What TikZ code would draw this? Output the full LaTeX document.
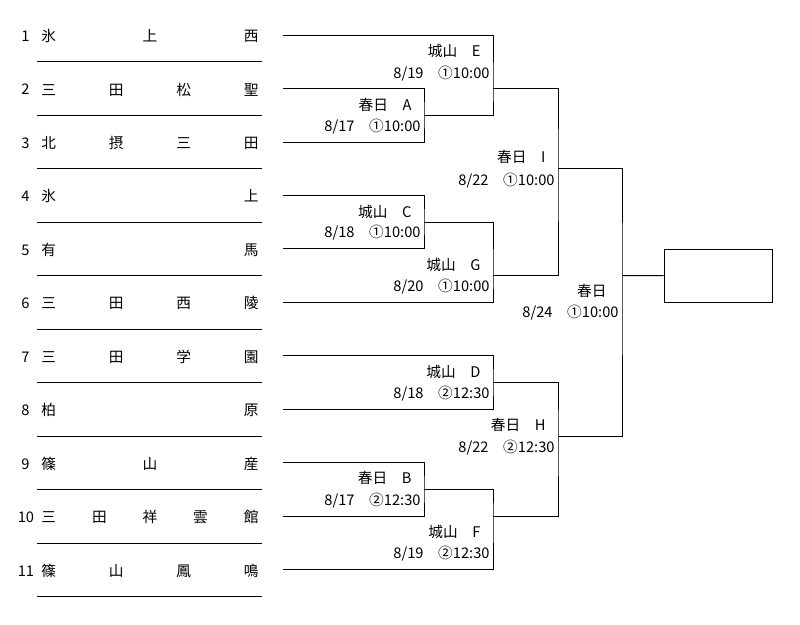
\documentclass[tikz,border=0pt]{standalone}
\usepackage{fontspec}
\setmainfont{Noto Sans CJK JP}
\newcommand\spreadname[1]{\hbox to 162.75pt{#1}}

\begin{document}
\begin{tikzpicture}[x=0.75pt, y=-0.75pt, line width=0.7pt,
		font=\fontsize{11pt}{13pt}\selectfont,
		seed/.style={anchor=center, inner sep=0pt},
		team/.style={anchor=west, inner sep=0pt},
		venue/.style={anchor=east, inner sep=0pt},
		champ/.style={draw, minimum width=81pt, minimum height=39.75pt, inner sep=0pt}]
				\useasboundingbox (0,0) rectangle (800,625);
				% seeds and teams
				\node [seed] (n1) at (25.5,36) {1};
				\node [seed] (n2) at (25.5,89.5) {2};
				\node [seed] (n3) at (25.5,143) {3};
				\node [seed] (n4) at (25.5,196.4) {4};
				\node [seed] (n5) at (25.5,249.9) {5};
				\node [seed] (n6) at (25.5,303.4) {6};
				\node [seed] (n7) at (25.5,356.9) {7};
				\node [seed] (n8) at (25.5,410.3) {8};
				\node [seed] (n9) at (25.5,463.8) {9};
				\node [seed] (n10) at (26,517.3) {10};
				\node [seed] (n11) at (26,570.8) {11};
				\node [team] (t1) at (41,36) {\spreadname{氷\hfill 上\hfill 西}};
				\node [team] (t2) at (41,89.5) {\spreadname{三\hfill 田\hfill 松\hfill 聖}};
				\node [team] (t3) at (41,143) {\spreadname{北\hfill 摂\hfill 三\hfill 田}};
				\node [team] (t4) at (41,196.4) {\spreadname{氷\hfill 上}};
				\node [team] (t5) at (41,249.9) {\spreadname{有\hfill 馬}};
				\node [team] (t6) at (41,303.4) {\spreadname{三\hfill 田\hfill 西\hfill 陵}};
				\node [team] (t7) at (41,356.9) {\spreadname{三\hfill 田\hfill 学\hfill 園}};
				\node [team] (t8) at (41,410.3) {\spreadname{柏\hfill 原}};
				\node [team] (t9) at (41,463.8) {\spreadname{篠\hfill 山\hfill 産}};
				\node [team] (t10) at (41,517.3) {\spreadname{三\hfill 田\hfill 祥\hfill 雲\hfill 館}};
				\node [team] (t11) at (41,570.8) {\spreadname{篠\hfill 山\hfill 鳳\hfill 鳴}};
				% rules under the rows
				\draw (37,61.7) -- (262,61.7);
				\draw (37,115.2) -- (262,115.2);
				\draw (37,168.7) -- (262,168.7);
				\draw (37,222.2) -- (262,222.2);
				\draw (37,275.7) -- (262,275.7);
				\draw (37,329.1) -- (262,329.1);
				\draw (37,382.6) -- (262,382.6);
				\draw (37,436.1) -- (262,436.1);
				\draw (37,489.6) -- (262,489.6);
				\draw (37,543.1) -- (262,543.1);
				\draw (37,596.5) -- (262,596.5);
				% bracket
				\coordinate (s1) at (283,35);
				\coordinate (s2) at (283,88.5);
				\coordinate (s3) at (283,142);
				\coordinate (s4) at (283,195.4);
				\coordinate (s5) at (283,248.9);
				\coordinate (s6) at (283,302.4);
				\coordinate (s7) at (283,355.9);
				\coordinate (s8) at (283,409.4);
				\coordinate (s9) at (283,462.8);
				\coordinate (s10) at (283,516.3);
				\coordinate (s11) at (283,569.8);
				\coordinate (mA) at (424,115.2);
				\coordinate (mB) at (424,489.6);
				\coordinate (mC) at (424,222.2);
				\coordinate (mD) at (493,382.6);
				\coordinate (mE) at (493,88.5);
				\coordinate (mF) at (493,516.3);
				\coordinate (mG) at (493,275.7);
				\coordinate (mH) at (558,436.1);
				\coordinate (mI) at (558,168.7);
				\coordinate (mZ) at (622,275.7);
				\node [champ] (win) at (718,275.5) {};
				\draw (s2) -| (mA) |- (s3);
				\draw (s1) -| (mE) |- (mA);
				\draw (s4) -| (mC) |- (s5);
				\draw (mC) -| (mG) |- (s6);
				\draw (mE) -| (mI) |- (mG);
				\draw (s7) -| (mD) |- (s8);
				\draw (s9) -| (mB) |- (s10);
				\draw (mB) -| (mF) |- (s11);
				\draw (mD) -| (mH) |- (mF);
				\draw (mI) -| (mZ) |- (mH);
				\draw (mZ) -- (win);
				% venues and dates
				\node [venue] (vE) at (481,51) {城山　E};
				\node [venue] (dE) at (490,74) {8/19　①10:00};
				\node [venue] (vA) at (412,105) {春日　A};
				\node [venue] (dA) at (421,127) {8/17　①10:00};
				\node [venue] (vI) at (546,157) {春日　I};
				\node [venue] (dI) at (555,181) {8/22　①10:00};
				\node [venue] (vC) at (412,212) {城山　C};
				\node [venue] (dC) at (421,233) {8/18　①10:00};
				\node [venue] (vG) at (481,265) {城山　G};
				\node [venue] (dG) at (490,287) {8/20　①10:00};
				\node [venue] (vZ) at (607,291) {春日};
				\node [venue] (dZ) at (619,313) {8/24　①10:00};
				\node [venue] (vD) at (481,372) {城山　D};
				\node [venue] (dD) at (490,394) {8/18　②12:30};
				\node [venue] (vH) at (546,425) {春日　H};
				\node [venue] (dH) at (555,448) {8/22　②12:30};
				\node [venue] (vB) at (412,478) {春日　B};
				\node [venue] (dB) at (421,501) {8/17　②12:30};
				\node [venue] (vF) at (481,532) {城山　F};
				\node [venue] (dF) at (490,554) {8/19　②12:30};
			\end{tikzpicture}
\end{document}
